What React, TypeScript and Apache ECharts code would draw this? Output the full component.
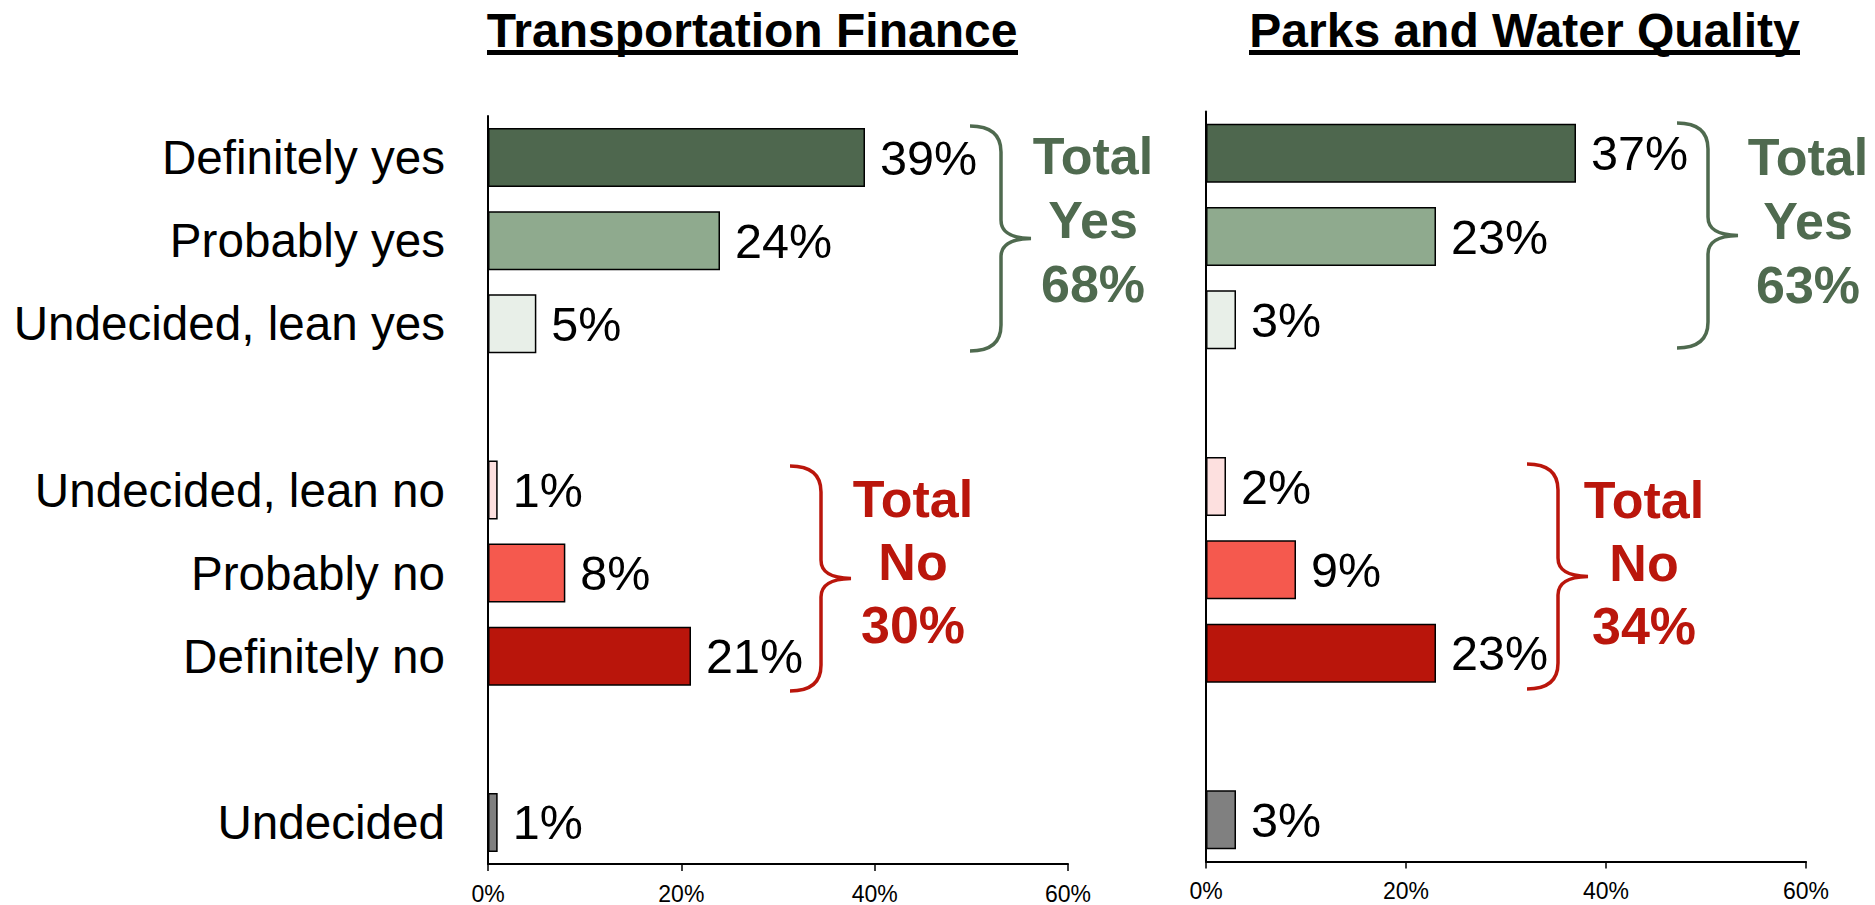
import React, { useEffect, useRef } from "react";
import * as echarts from "echarts";

// ---------- data ----------
const categories = [
  "Definitely yes",
  "Probably yes",
  "Undecided, lean yes",
  "",
  "Undecided, lean no",
  "Probably no",
  "Definitely no",
  "",
  "Undecided",
];
const transportationValues: (number | null)[] = [39, 24, 5, null, 1, 8, 21, null, 1];
const parksValues: (number | null)[] = [37, 23, 3, null, 2, 9, 23, null, 3];
const axisMin = 0;
const axisMax = 60;
const axisInterval = 20;
const chartTitles = ["Transportation Finance", "Parks and Water Quality"];
const totalYes = [68, 63];
const totalNo = [30, 34];

// ---------- styles ----------
const barColors = [
  "#4E674E",
  "#8FAA8E",
  "#E8EFE8",
  "transparent",
  "#FDE0DF",
  "#F5594E",
  "#B9150B",
  "transparent",
  "#808080",
];
const GREEN = "#4F6A4F";
const RED = "#BA160C";
const FONT = '"Liberation Sans", Arial, Helvetica, sans-serif';

const BRACE_D =
  "M0,0 C20,0 31,8 31,26 L31,94 C31,106 40,112 61,112.5 C40,113 31,119 31,131 L31,199 C31,217 20,225 0,225";

let braceRegistered = false;

function buildData(values: (number | null)[]) {
  return values.map((v, i) =>
    v == null ? "-" : { value: v, itemStyle: { color: barColors[i] } }
  );
}

function textEl(x: number, y: number, text: string, font: string, fill: string, lineHeight?: number) {
  return {
    type: "text",
    x,
    y,
    silent: true,
    style: {
      text,
      font,
      fill,
      lineHeight,
      align: "center",
      verticalAlign: "middle",
      textAlign: "center",
      textVerticalAlign: "middle",
    },
  };
}

export default function App() {
  const ref = useRef<HTMLDivElement>(null);

  useEffect(() => {
    if (!ref.current) return;
    if (!braceRegistered) {
      echarts.graphic.registerShape("brace", echarts.graphic.extendPath(BRACE_D, {}) as any);
      braceRegistered = true;
    }
    const chart = echarts.init(ref.current, undefined, { renderer: "svg" });

    const commonX = (gridIndex: number) => ({
      type: "value",
      gridIndex,
      min: axisMin,
      max: axisMax,
      interval: axisInterval,
      axisLine: { show: true, lineStyle: { color: "#000", width: 2 } },
      axisTick: { show: true, length: 7, lineStyle: { color: "#000", width: 1.5 } },
      splitLine: { show: false },
      axisLabel: {
        formatter: "{value}%",
        fontSize: 23,
        fontFamily: FONT,
        color: "#000",
        margin: 18,
      },
    });

    const commonY = (gridIndex: number, showLabels: boolean) => ({
      type: "category",
      gridIndex,
      data: categories,
      inverse: true,
      axisLine: { show: true, lineStyle: { color: "#000", width: 2 } },
      axisTick: { show: false },
      splitLine: { show: false },
      axisLabel: {
        show: showLabels,
        fontSize: 47.6,
        fontFamily: FONT,
        color: "#000",
        margin: 43,
        interval: 0,
      },
    });

    const labelStyle = {
      show: true,
      position: "right",
      distance: 15,
      formatter: "{c}%",
      fontSize: 48.5,
      fontFamily: FONT,
      color: "#000",
    };

    const braceEl = (x: number, y: number, color: string) => ({
      type: "brace",
      x,
      y,
      silent: true,
      style: { fill: "none", stroke: color, lineWidth: 3.5 },
    });

    const titleFont = `bold 48px ${FONT}`;
    const totalFont = `bold 52px ${FONT}`;

    chart.setOption({
      animation: false,
      backgroundColor: "#fff",
      grid: [
        { left: 488, top: 116, width: 580, height: 748, containLabel: false },
        { left: 1206, top: 111.5, width: 600, height: 750, containLabel: false },
      ],
      xAxis: [commonX(0), commonX(1)],
      yAxis: [commonY(0, true), commonY(1, false)],
      series: [
        {
          type: "bar",
          xAxisIndex: 0,
          yAxisIndex: 0,
          data: buildData(transportationValues),
          barWidth: 59,
          itemStyle: { borderColor: "#000", borderWidth: 1.5 },
          label: labelStyle,
        },
        {
          type: "bar",
          xAxisIndex: 1,
          yAxisIndex: 1,
          data: buildData(parksValues),
          barWidth: 59,
          itemStyle: { borderColor: "#000", borderWidth: 1.5 },
          label: labelStyle,
        },
      ],
      graphic: [
        textEl(752, 30, chartTitles[0], titleFont, "#000"),
        { type: "rect", silent: true, shape: { x: 487, y: 50, width: 531, height: 5 }, style: { fill: "#000" } },
        textEl(1524.5, 30, chartTitles[1], titleFont, "#000"),
        { type: "rect", silent: true, shape: { x: 1249, y: 50, width: 551, height: 5 }, style: { fill: "#000" } },

        braceEl(970, 126, GREEN),
        textEl(1093, 220, `Total\nYes\n${totalYes[0]}%`, totalFont, GREEN, 64),
        braceEl(790, 466, RED),
        textEl(913, 562, `Total\nNo\n${totalNo[0]}%`, totalFont, RED, 63),

        braceEl(1677, 123, GREEN),
        textEl(1808, 220.5, `Total\nYes\n${totalYes[1]}%`, totalFont, GREEN, 64),
        braceEl(1527, 464, RED),
        textEl(1644, 562.5, `Total\nNo\n${totalNo[1]}%`, totalFont, RED, 63),
      ],
    });

    return () => {
      chart.dispose();
    };
  }, []);

  return (
    <div
      ref={ref}
      style={{ position: "fixed", left: 0, top: 0, width: 1875, height: 905, background: "#fff" }}
    />
  );
}
